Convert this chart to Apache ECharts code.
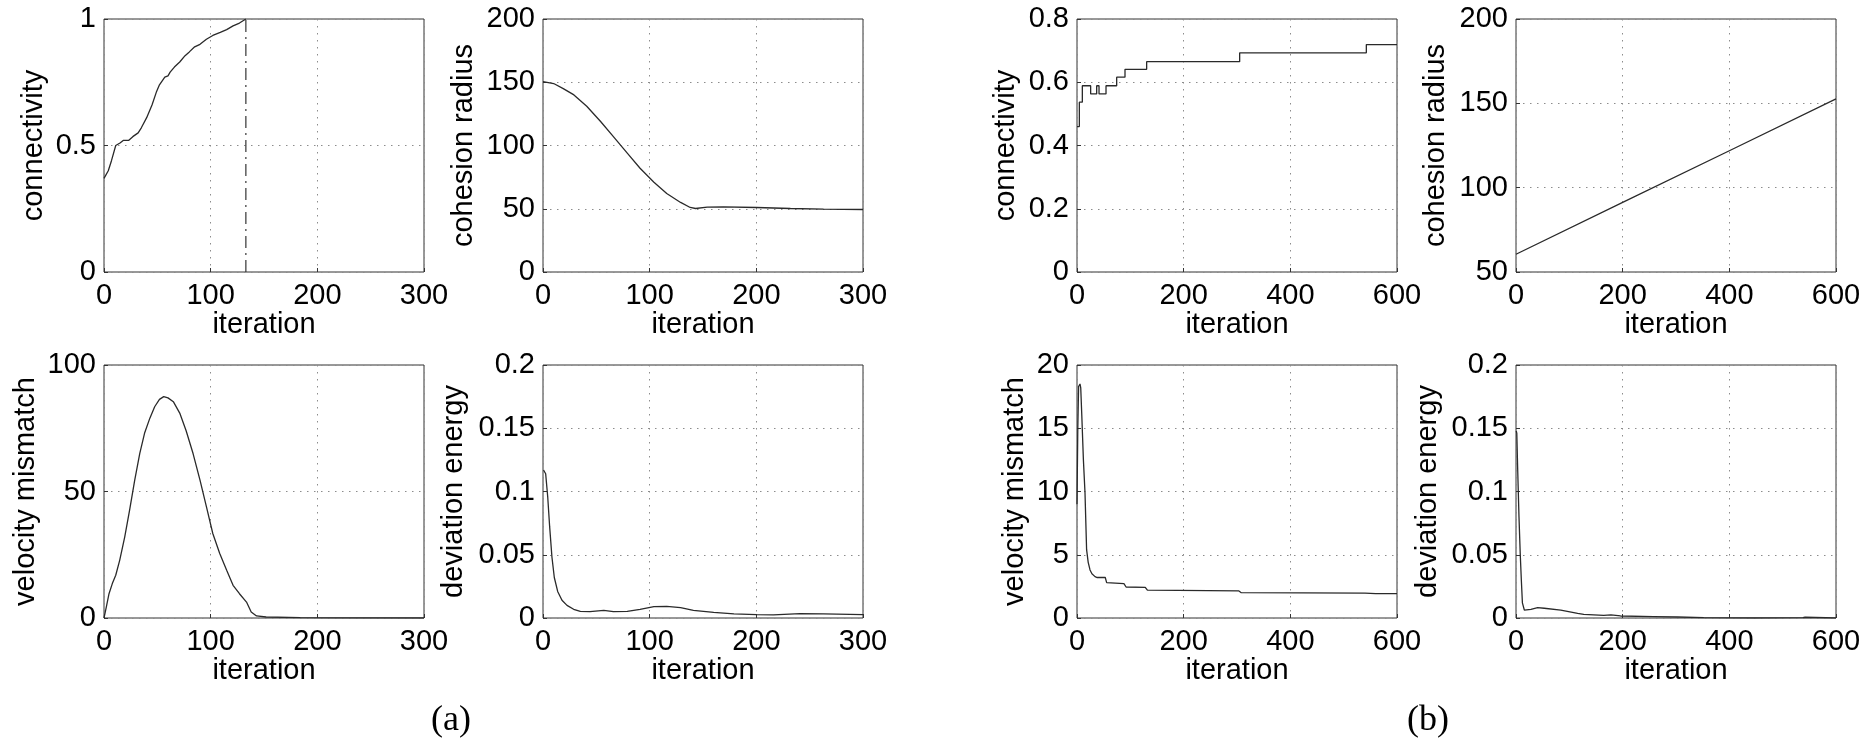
<!DOCTYPE html>
<html>
<head>
<meta charset="utf-8">
<script src="https://cdn.jsdelivr.net/npm/echarts@6/dist/echarts.min.js"></script>
<style>
html,body{margin:0;padding:0;background:#fff;}
#chart{width:1866px;height:738px;}
</style>
</head>
<body>
<div id="chart"></div>
<script>
// ---------- DATA ----------
// (a) connectivity
const connA_x = [0, 4, 7, 11, 15, 18, 23, 27, 32, 35, 40, 45, 49, 52, 57, 60, 62, 66, 71, 76, 80, 85, 90, 96, 102, 109, 115, 121, 127, 133];
const connA_y = [0.37, 0.40, 0.44, 0.50, 0.51, 0.52, 0.52, 0.535, 0.55, 0.57, 0.61, 0.66, 0.71, 0.74, 0.77, 0.775, 0.79, 0.81, 0.83, 0.855, 0.87, 0.89, 0.90, 0.92, 0.935, 0.947, 0.958, 0.973, 0.984, 1.0];
const connA_threshold = 133;
// (a) cohesion radius
const radA_x = [0, 10, 19, 29, 41, 54, 66, 79, 91, 104, 116, 129, 138, 143, 154, 169, 200, 232, 263, 300];
const radA_y = [150.5, 149, 145, 140, 131, 119, 107, 94, 82, 71, 62, 55, 51, 50.2, 51.3, 51.5, 51, 50.2, 49.7, 49.4];
// (a) velocity mismatch
const velA_x = [0, 2.2, 4.7, 7.8, 11, 14.7, 19.4, 24, 28.8, 33.5, 38, 43, 47.5, 52, 56, 60, 65, 71, 77, 83.5, 90, 96, 102, 108.5, 115, 121, 127, 133.6, 138, 143, 152, 184, 215, 300];
const velA_y = [0, 4.4, 9.6, 13.6, 16.9, 22.8, 32, 42.6, 54.5, 65, 73, 79, 83.5, 86.4, 87.5, 87, 85.5, 81, 74, 65, 54.5, 44, 33.4, 25.5, 18.9, 12.9, 9.6, 6.3, 2.4, 0.8, 0.4, 0.13, 0.05, 0];
// (a) deviation energy
const devA_x = [0.5, 2.5, 4.4, 6.25, 8.4, 10.6, 13.75, 17.8, 22.5, 28.75, 35, 44, 57, 66, 79, 91, 104, 116, 129, 141, 160, 179, 200, 216, 241, 263, 300];
const devA_y = [0.117, 0.114, 0.096, 0.072, 0.048, 0.032, 0.021, 0.014, 0.010, 0.0069, 0.0053, 0.005, 0.006, 0.005, 0.0053, 0.0069, 0.009, 0.0092, 0.0082, 0.006, 0.0045, 0.0032, 0.0026, 0.0024, 0.0034, 0.0032, 0.0026];
// (b) connectivity (step changes)
const connB_x = [0, 4.4, 10, 25.6, 36.9, 41.3, 54.4, 74.4, 90, 130.6, 305, 542.5, 600];
const connB_y = [0.46, 0.537, 0.589, 0.563, 0.589, 0.563, 0.589, 0.616, 0.641, 0.665, 0.693, 0.719, 0.719];
// (b) cohesion radius
const radB_x = [0, 200, 400, 600];
const radB_y = [60.5, 91.3, 121.9, 152.6];
// (b) velocity mismatch
const velB_x = [0, 1.5, 3, 5.6, 7, 9, 12, 15, 18, 21, 24.4, 28, 33.75, 38, 53, 55.6, 88, 92, 128, 132, 303, 308, 540, 560, 600];
const velB_y = [9, 15, 18.3, 18.5, 18.2, 16, 12.5, 9.9, 5.4, 4.4, 3.8, 3.5, 3.27, 3.2, 3.2, 2.8, 2.72, 2.45, 2.42, 2.2, 2.15, 2.0, 1.97, 1.92, 1.93];
// (b) deviation energy
const devB_x = [0.5, 1.5, 3, 5.6, 8, 10, 12, 15.6, 18.75, 28, 40.6, 53, 84, 115.6, 127, 164.5, 178, 196, 258, 303, 306, 352, 446, 538, 542, 600];
const devB_y = [0.148, 0.146, 0.12, 0.08, 0.05, 0.03, 0.012, 0.0063, 0.0055, 0.0069, 0.0082, 0.0077, 0.0063, 0.0037, 0.0029, 0.0021, 0.0024, 0.0016, 0.0011, 0.0008, 0.0012, 0.0003, 0, 0.0003, 0.0006, 0];

// axis ranges / labels
const xLabel = 'iteration';
const yNames = ['connectivity', 'cohesion radius', 'velocity mismatch', 'deviation energy',
                'connectivity', 'cohesion radius', 'velocity mismatch', 'deviation energy'];
const xMax = [300, 300, 300, 300, 600, 600, 600, 600];
const xInterval = [100, 100, 100, 100, 200, 200, 200, 200];
const yMin = [0, 0, 0, 0, 0, 50, 0, 0];
const yMax = [1, 200, 100, 0.2, 0.8, 200, 20, 0.2];
const yInterval = [0.5, 50, 50, 0.05, 0.2, 50, 5, 0.05];
const captions = ['(a)', '(b)'];

// ---------- LAYOUT ----------
const gridPos = [
  {left: 104, top: 19}, {left: 543, top: 19},
  {left: 104, top: 365}, {left: 543, top: 365},
  {left: 1077, top: 19}, {left: 1516, top: 19},
  {left: 1077, top: 365}, {left: 1516, top: 365}
];
const yNameGap = [56, 65, 64, 75, 57, 66, 48, 74];

const FONT = 'Liberation Sans';
const FS = 29;
const zip = (xs, ys) => xs.map((x, i) => [x, ys[i]]);

const grids = gridPos.map(p => ({
  left: p.left, top: p.top, width: 320, height: 253,
  show: true, borderColor: '#333', borderWidth: 1, backgroundColor: 'transparent'
}));

const gridLine = {show: true, lineStyle: {color: '#8c8c8c', width: 1, type: [1.5, 5.5]}};

const xAxes = gridPos.map((p, i) => ({
  type: 'value', gridIndex: i, min: 0, max: xMax[i], interval: xInterval[i],
  name: xLabel, nameLocation: 'middle', nameGap: 38,
  nameTextStyle: {fontFamily: FONT, fontSize: FS, color: '#000'},
  axisLine: {show: false},
  axisTick: {show: true, inside: true, length: 4, lineStyle: {color: '#333'}},
  axisLabel: {fontFamily: FONT, fontSize: FS, color: '#000', margin: 9},
  splitLine: gridLine
}));

const yAxes = gridPos.map((p, i) => ({
  type: 'value', gridIndex: i, min: yMin[i], max: yMax[i], interval: yInterval[i],
  name: yNames[i], nameLocation: 'middle', nameGap: yNameGap[i],
  nameTextStyle: {fontFamily: FONT, fontSize: FS, color: '#000'},
  axisLine: {show: false},
  axisTick: {show: true, inside: true, length: 4, lineStyle: {color: '#333'}},
  axisLabel: {fontFamily: FONT, fontSize: FS, color: '#000', margin: 8},
  splitLine: gridLine
}));

const lineStyle = {color: '#2a2a2a', width: 1.3};
const mk = (i, data, extra) => Object.assign({
  type: 'line', xAxisIndex: i, yAxisIndex: i, data: data,
  showSymbol: false, symbol: 'none', lineStyle: lineStyle, animation: false, silent: true
}, extra || {});

const series = [
  mk(0, zip(connA_x, connA_y)),
  mk(0, [[connA_threshold, yMin[0]], [connA_threshold, yMax[0]]],
     {lineStyle: {color: '#333', width: 1.2, type: [12, 5, 2, 5]}}),
  mk(1, zip(radA_x, radA_y)),
  mk(2, zip(velA_x, velA_y)),
  mk(3, zip(devA_x, devA_y)),
  mk(4, zip(connB_x, connB_y), {step: 'end'}),
  mk(5, zip(radB_x, radB_y)),
  mk(6, zip(velB_x, velB_y)),
  mk(7, zip(devB_x, devB_y))
];

const titles = [
  {text: captions[0], left: 446, top: 698, textAlign: 'center'},
  {text: captions[1], left: 1423, top: 698, textAlign: 'center'}
].map(t => Object.assign(t, {textStyle: {fontFamily: 'Liberation Serif', fontSize: 36, fontWeight: 'normal', color: '#000'}}));

const chart = echarts.init(document.getElementById('chart'), null, {renderer: 'canvas'});
chart.setOption({
  animation: false,
  backgroundColor: '#fff',
  title: titles,
  grid: grids,
  xAxis: xAxes,
  yAxis: yAxes,
  series: series
});
</script>
</body>
</html>
